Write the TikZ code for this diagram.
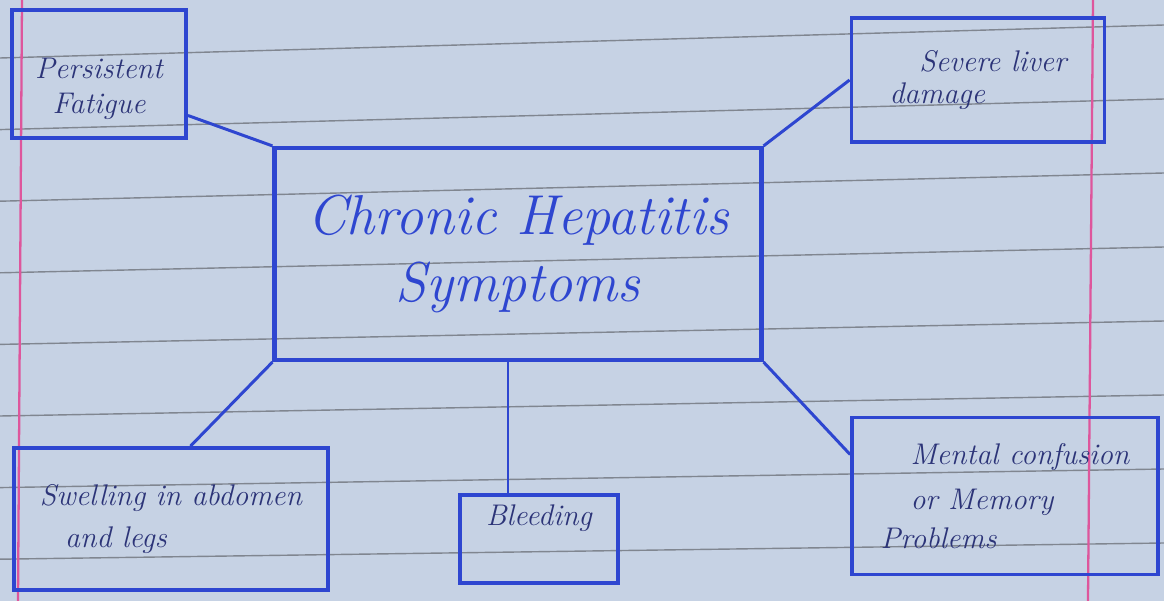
\documentclass[tikz,border=0pt]{standalone}
\usetikzlibrary{positioning}
\definecolor{inkBlue}{RGB}{46, 70, 208}
\definecolor{inkNavy}{RGB}{44, 52, 120}
\definecolor{paperBlue}{RGB}{198, 210, 228}
\definecolor{ruleGray}{RGB}{128, 134, 144}
\definecolor{marginPink}{RGB}{222, 86, 156}

\begin{document}
\begin{tikzpicture}[
  x=0.02cm,y=-0.02cm,
  every node/.style={align=center},
  box/.style={draw=inkBlue, line width=2.2pt, inner sep=4pt, text=inkNavy, font=\fontsize{17}{24}\selectfont\itshape},
  hub/.style={draw=inkBlue, line width=2.4pt, inner sep=4pt, text=inkBlue, font=\fontsize{32}{38}\selectfont\itshape},
  link/.style={draw=inkBlue, line width=1.7pt},
  rule/.style={ruleGray, line width=.8pt},
  margin/.style={marginPink, line width=1.3pt}
]
\useasboundingbox (0,0) rectangle (1164,601);

% ruled paper
\fill[paperBlue] (0,0) rectangle (1164,601);
\foreach \k in {0,...,7}
  \draw[rule] (0,{58+71.6*\k}) -- (1164,{25+74*\k});
\draw[margin] (22,0) -- (18,601);
\draw[margin] (1093,0) -- (1088,601);

\node[hub, minimum width=9.74cm, minimum height=4.24cm] (hepatitis) at (518,254)
  {Chronic Hepatitis\\Symptoms};

\node[box, minimum width=3.48cm, minimum height=2.56cm] (fatigue) at (99,74)
  {\strut\\[-12pt]Persistent\\[-4pt]Fatigue};
\node[box, minimum width=5.06cm, minimum height=2.48cm, align=left] (liver) at (978,80)
  {\quad Severe liver\\[-6pt]damage};
\node[box, minimum width=6.28cm, minimum height=2.84cm] (swelling) at (171,519)
  {Swelling in abdomen\\\hspace*{-2.2cm}and legs};
\node[box, minimum width=3.16cm, minimum height=1.76cm] (bleeding) at (539,539)
  {Bleeding\\[-4pt]\strut};
\node[box, minimum width=6.12cm, minimum height=3.14cm, align=left] (memory) at (1005,496)
  {\quad Mental confusion\\[2pt]\quad or Memory\\[-2pt]Problems};

\draw[link] (fatigue.-25) -- (hepatitis.north west);
\draw[link] (liver.west) -- (hepatitis.north east);
\draw[link] (hepatitis.south west) -- (swelling.75);
\draw[link] ([xshift=-0.2cm]hepatitis.south) -- ([xshift=-0.2cm]hepatitis.south |- bleeding.north);
\draw[link] (hepatitis.south east) -- (memory.165);
\end{tikzpicture}
\end{document}
